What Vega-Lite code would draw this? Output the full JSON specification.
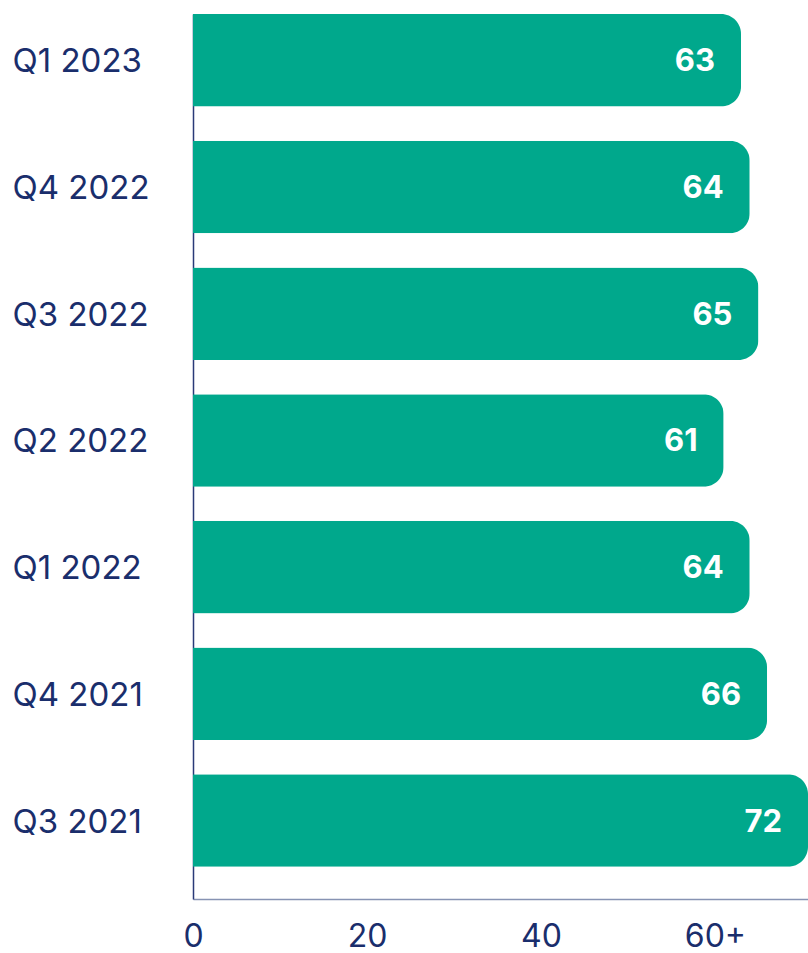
{
  "$schema": "https://vega.github.io/schema/vega-lite/v6.json",
  "width": 615,
  "height": 885,
  "autosize": "none",
  "padding": {"left": 193, "top": 14, "right": 0, "bottom": 54},
  "background": "white",
  "config": {"view": {"stroke": null}, "font": "Inter"},
  "data": {"values": [
    {"quarter": "Q1 2023", "value": 63},
    {"quarter": "Q4 2022", "value": 64},
    {"quarter": "Q3 2022", "value": 65},
    {"quarter": "Q2 2022", "value": 61},
    {"quarter": "Q1 2022", "value": 64},
    {"quarter": "Q4 2021", "value": 66},
    {"quarter": "Q3 2021", "value": 72}
  ]},
  "encoding": {
    "y": {
      "field": "quarter", "type": "nominal", "sort": null,
      "scale": {"paddingInner": 0.27, "paddingOuter": 0.127, "align": 0},
      "axis": {
        "title": null, "ticks": false, "tickSize": 0, "labelAlign": "left", "labelPadding": 181,
        "labelFontSize": 33, "labelColor": "#1a2e6c", "labelFont": "Inter", "labelOffset": 2,
        "domainColor": "#2a3a78", "domainWidth": 1.5
      }
    },
    "x": {
      "field": "value", "type": "quantitative",
      "scale": {"domain": [0, 70.7], "clamp": true, "nice": false, "zero": true},
      "axis": {
        "title": null, "values": [0, 20, 40, 60], "grid": false, "ticks": false, "tickSize": 0,
        "labelFlush": false, "labelBaseline": "bottom",
        "labelPadding": 54, "labelFontSize": 32, "labelColor": "#1a2e6c", "labelFont": "Inter",
        "labelExpr": "datum.value == 60 ? '60+' : datum.label",
        "domainColor": "#8793b3", "domainWidth": 1.5,
        "encode": {"labels": {"update": {"dx": {"signal": "datum.value == 60 ? -10 : (datum.value == 40 ? -4 : 0)"}}}}
      }
    }
  },
  "layer": [
    {"mark": {"type": "bar", "color": "#00a88c", "cornerRadiusEnd": 20}},
    {"mark": {"type": "text", "align": "right", "dx": -26, "dy": 2, "baseline": "middle", "color": "white", "fontWeight": "bold", "fontSize": 31, "font": "Inter"},
     "encoding": {"text": {"field": "value", "type": "quantitative"}}}
  ]
}
